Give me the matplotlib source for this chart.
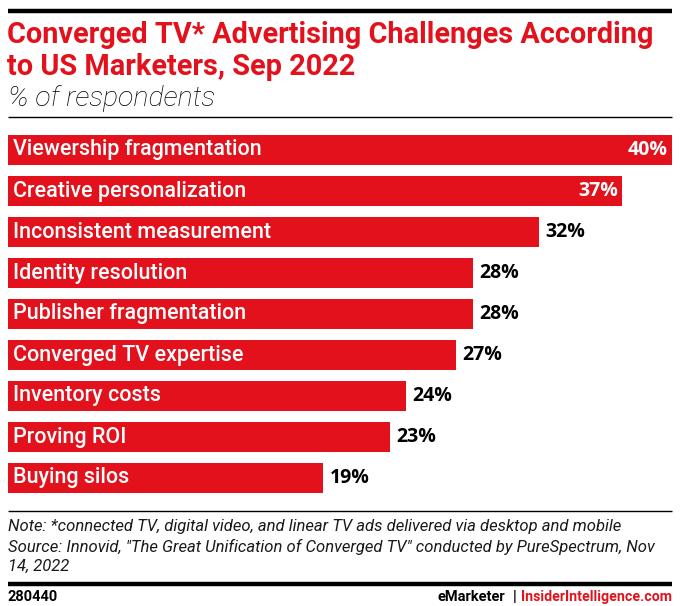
import matplotlib
matplotlib.use("Agg")
import matplotlib.pyplot as plt
from matplotlib.transforms import offset_copy

categories = ["Viewership fragmentation", "Creative personalization", "Inconsistent measurement",
              "Identity resolution", "Publisher fragmentation", "Converged TV expertise",
              "Inventory costs", "Proving ROI", "Buying silos"]
values = [40, 37, 32, 28, 28, 27, 24, 23, 19]

RED = "#E2111C"
W, H = 680, 606
fig = plt.figure(figsize=(W / 100, H / 100), dpi=100)


def fx(px):
    return px / W


def fy(py):
    return 1 - py / H


def hline(y, lw):
    fig.add_artist(plt.Line2D([fx(8), fx(672)], [fy(y), fy(y)], color="black", lw=lw,
                              solid_capstyle="butt"))


# header
hline(11, 3.2)
fig.text(fx(7), fy(35), "Converged TV* Advertising Challenges According", color=RED,
         fontsize=20.8, fontweight="bold", family="Roboto", va="center")
fig.text(fx(7), fy(67), "to US Marketers, Sep 2022", color=RED,
         fontsize=20.8, fontweight="bold", family="Roboto", va="center")
fig.text(fx(8), fy(99), "% of respondents", color="black", fontsize=20.5, style="italic",
         family="Roboto", fontweight="light", va="center")
hline(117, 1.0)

# bars
ax = fig.add_axes([fx(8), fy(498.5), fx(664), 369 / H])
y = range(len(categories))
ax.barh(y, values, height=0.71, color=RED)
ax.set_xlim(0, 40)
ax.set_ylim(len(categories) - 0.5, -0.5)
ax.axis("off")

for i, (cat, v) in enumerate(zip(categories, values)):
    ax.text(0, i, cat, transform=offset_copy(ax.transData, fig=fig, x=5, y=0, units="dots"),
            color="white", fontsize=15.5, fontweight="medium", family="Roboto",
            va="center", ha="left")
    if v >= 37:
        ax.text(v, i, f"{v}%", transform=offset_copy(ax.transData, fig=fig, x=-4, y=0, units="dots"),
                color="white", fontsize=14, fontweight="bold", family="Open Sans",
                va="center", ha="right")
    else:
        ax.text(v, i, f"{v}%", transform=offset_copy(ax.transData, fig=fig, x=6, y=0, units="dots"),
                color="black", fontsize=14, fontweight="bold", family="Open Sans",
                va="center", ha="left")

# footer
hline(511, 1.0)
notes = ["Note: *connected TV, digital video, and linear TV ads delivered via desktop and mobile",
         "Source: Innovid, \"The Great Unification of Converged TV\" conducted by PureSpectrum, Nov",
         "14, 2022"]
for k, line in enumerate(notes):
    fig.text(fx(8), fy(527 + k * 19.5), line, fontsize=12, style="italic", family="Roboto",
             va="center", color="#1a1a1a")
hline(584, 3.2)
fig.text(fx(8), fy(597), "280440", fontsize=10.5, fontweight="bold", family="Roboto", va="center")
t = fig.text(fx(672), fy(597), "InsiderIntelligence.com", fontsize=10.2, fontweight="bold",
             family="Roboto", va="center", ha="right", color=RED)
fig.canvas.draw()
bb = t.get_window_extent()
t2 = fig.text(bb.x0 / W - fx(5), fy(597), "|", fontsize=10.2, fontweight="bold",
              family="Roboto", va="center", ha="right", color="black")
bb2 = t2.get_window_extent()
fig.text(bb2.x0 / W - fx(7), fy(597), "eMarketer", fontsize=10.5, fontweight="bold",
         family="Roboto", va="center", ha="right", color="black")

fig.savefig("out.png", dpi=100)
